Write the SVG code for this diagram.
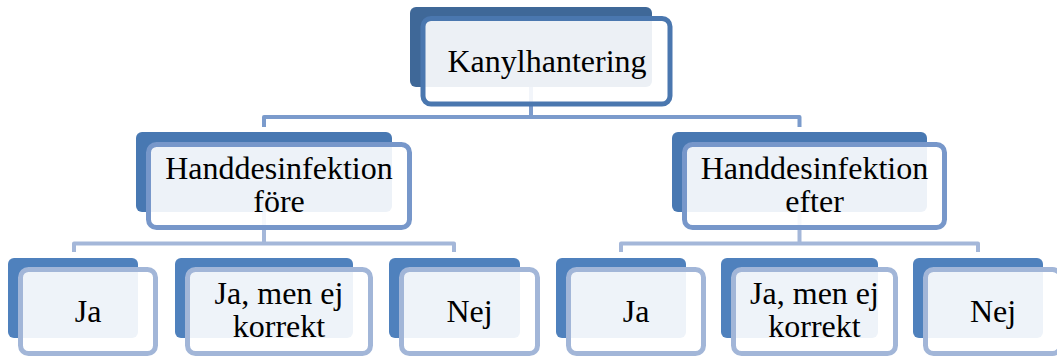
<svg xmlns="http://www.w3.org/2000/svg" width="1057" height="356" viewBox="0 0 1057 356">
<style>
.bg{fill:#ffffff}
.b1{fill:#3f6898}
.b2{fill:#4878b2}
.b3{fill:#4f81bd}
.f{fill:#ffffff;fill-opacity:0.9;stroke-width:5}
.f1{stroke:#4a77af}
.f2{stroke:#7797ca}
.f3{stroke:#a2b6d8}
.c{fill:none;stroke-width:4;stroke-linejoin:round}
.c1{stroke:#7b9bcc}
.c2{stroke:#a4b7d9}
text{font-family:"Liberation Serif","Times New Roman",serif;font-size:32px;fill:#000000;text-anchor:middle}
</style>
<rect class="bg" x="0" y="0" width="1057" height="356"/>
<g id="connectors">
<path class="c c1" d="M531,47 V117"/>
<path class="c c1" d="M264,127 V117 H799.5 V127"/>
<path class="c c2" d="M264,172 V243.5"/>
<path class="c c2" d="M74,252 V243.5 H454 V252"/>
<path class="c c2" d="M799.5,172 V243.5"/>
<path class="c c2" d="M621,252 V243.5 H978 V252"/>
</g>
<g id="node-kanylhantering">
<rect class="b1" x="410" y="7" width="242" height="80" rx="6"/>
<rect class="f f1" x="423" y="18.5" width="247" height="85.5" rx="8"/>
<text x="547" y="72">Kanylhantering</text>
</g>
<g id="node-fore">
<rect class="b2" x="136" y="132" width="256" height="80" rx="6"/>
<rect class="f f2" x="148.5" y="144.5" width="261" height="83" rx="8"/>
<text x="279" y="179">Handdesinfektion</text>
<text x="279" y="212">före</text>
</g>
<g id="node-efter">
<rect class="b2" x="672" y="132" width="255" height="80" rx="6"/>
<rect class="f f2" x="684.5" y="144.5" width="260" height="83" rx="8"/>
<text x="814.5" y="179">Handdesinfektion</text>
<text x="814.5" y="212">efter</text>
</g>
<g id="node-fore-ja">
<rect class="b3" x="8" y="258" width="130" height="80" rx="6"/>
<rect class="f f3" x="20.5" y="269.5" width="135" height="84" rx="8"/>
<text x="88" y="322">Ja</text>
</g>
<g id="node-fore-jamen">
<rect class="b3" x="175" y="258" width="178" height="80" rx="6"/>
<rect class="f f3" x="187.5" y="269.5" width="183" height="84" rx="8"/>
<text x="279" y="304">Ja, men ej</text>
<text x="279" y="337">korrekt</text>
</g>
<g id="node-fore-nej">
<rect class="b3" x="389" y="258" width="131" height="80" rx="6"/>
<rect class="f f3" x="401.5" y="269.5" width="136" height="84" rx="8"/>
<text x="469.5" y="322">Nej</text>
</g>
<g id="node-efter-ja">
<rect class="b3" x="556" y="258" width="130" height="80" rx="6"/>
<rect class="f f3" x="568.5" y="269.5" width="135" height="84" rx="8"/>
<text x="636" y="322">Ja</text>
</g>
<g id="node-efter-jamen">
<rect class="b3" x="721" y="258" width="157" height="80" rx="6"/>
<rect class="f f3" x="733.5" y="269.5" width="162" height="84" rx="8"/>
<text x="814.5" y="304">Ja, men ej</text>
<text x="814.5" y="337">korrekt</text>
</g>
<g id="node-efter-nej">
<rect class="b3" x="913" y="258" width="130" height="80" rx="6"/>
<rect class="f f3" x="925.5" y="269.5" width="135" height="84" rx="8"/>
<text x="993" y="322">Nej</text>
</g>
</svg>
